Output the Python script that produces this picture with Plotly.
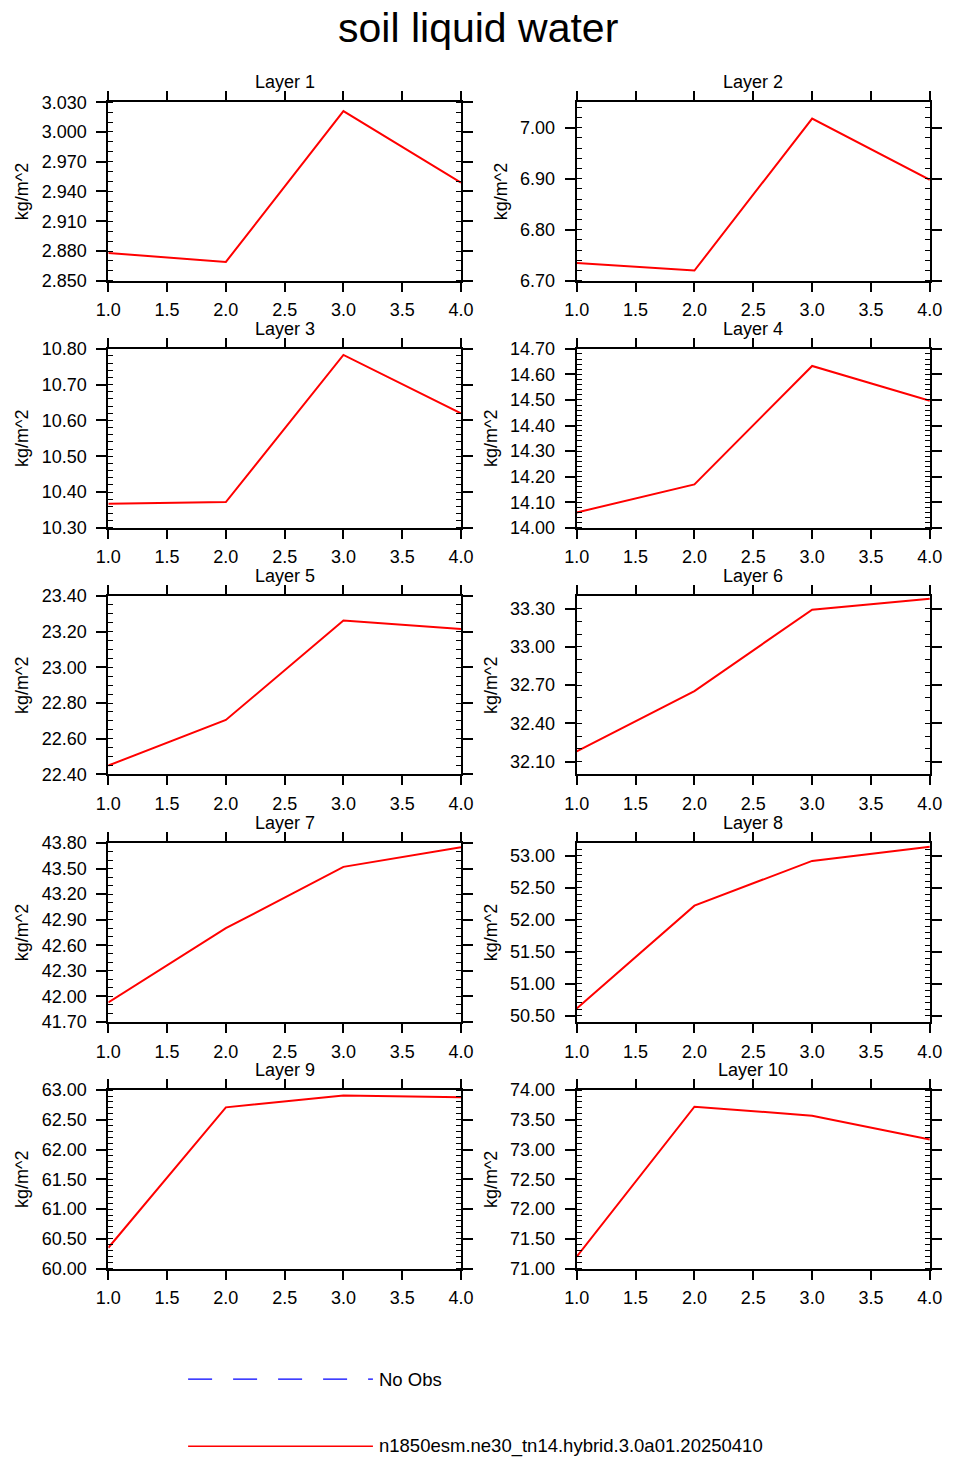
import plotly.graph_objects as go

W, H = 955, 1467

# ---------------- data ----------------
x_vals = [1, 2, 3, 4]
layer_titles = ["Layer 1", "Layer 2", "Layer 3", "Layer 4", "Layer 5",
                "Layer 6", "Layer 7", "Layer 8", "Layer 9", "Layer 10"]
layer1 = [2.878, 2.869, 3.021, 2.949]
layer2 = [6.735, 6.720, 7.018, 6.898]
layer3 = [10.367, 10.372, 10.783, 10.620]
layer4 = [14.060, 14.170, 14.633, 14.497]
layer5 = [22.450, 22.705, 23.262, 23.215]
layer6 = [32.180, 32.654, 33.292, 33.377]
layer7 = [41.930, 42.800, 43.520, 43.750]
layer8 = [50.610, 52.220, 52.920, 53.140]
layer9 = [60.350, 62.710, 62.910, 62.880]
layer10 = [71.200, 73.720, 73.570, 73.170]
series = [layer1, layer2, layer3, layer4, layer5,
          layer6, layer7, layer8, layer9, layer10]

y_ranges = [[2.850, 3.030], [6.70, 7.05], [10.30, 10.80], [14.00, 14.70],
            [22.40, 23.40], [32.00, 33.40], [41.70, 43.80], [50.40, 53.20],
            [60.00, 63.00], [71.00, 74.00]]
y_dtick = [0.03, 0.1, 0.1, 0.1, 0.2, 0.3, 0.3, 0.5, 0.5, 0.5]
y_tick0 = [2.85, 6.70, 10.30, 14.00, 22.40, 32.10, 41.70, 50.50, 60.00, 71.00]
y_minor = [0.01, 0.02, 0.02, 0.02, 0.05, 0.1, 0.1, 0.1, 0.1, 0.1]
y_format = [".3f"] + [".2f"] * 9

y_unit = "kg/m^2"
main_title = "soil liquid water"
legend_obs = "No Obs"
legend_model = "n1850esm.ne30_tn14.hybrid.3.0a01.20250410"

# ---------------- layout geometry (pixels) ----------------
col_px = [(98, 460.5), (579.5, 942.5)]
row_px = [(93.5, 274.5), (343.5, 525), (594, 775), (844.5, 1026), (1095, 1276)]

FONT = "Liberation Sans, Arial, Helvetica, sans-serif"
FS = 18

fig = go.Figure()
layout = dict(
    width=W, height=H,
    margin=dict(l=0, r=0, t=0, b=0),
    paper_bgcolor="white", plot_bgcolor="white",
    showlegend=False,
    font=dict(family=FONT, size=FS, color="black"),
)
annotations = []

for i in range(10):
    r, c = divmod(i, 2)
    x0, x1 = col_px[c]
    ytop, ybot = row_px[r]
    xs = "" if i == 0 else str(i + 1)
    fig.add_trace(go.Scatter(
        x=x_vals, y=series[i], mode="lines",
        line=dict(color="red", width=2),
        xaxis="x" + xs, yaxis="y" + xs, cliponaxis=True,
    ))
    layout["xaxis" + xs] = dict(
        domain=[x0 / W, x1 / W], anchor="y" + xs,
        range=[1, 4], tick0=1, dtick=0.5, tickformat=".1f",
        showgrid=False, zeroline=False,
        showline=True, linecolor="black", linewidth=2, mirror="ticks",
        ticks="outside", ticklen=9, tickwidth=2, tickcolor="black",
        ticklabelstandoff=3,
        tickfont=dict(family=FONT, size=FS, color="black"),
    )
    layout["yaxis" + xs] = dict(
        domain=[1 - ybot / H, 1 - ytop / H], anchor="x" + xs,
        range=y_ranges[i], tick0=y_tick0[i], dtick=y_dtick[i],
        tickformat=y_format[i],
        showgrid=False, zeroline=False,
        showline=True, linecolor="black", linewidth=2, mirror="ticks",
        ticks="outside", ticklen=10, tickwidth=2, tickcolor="black",
        ticklabelstandoff=6,
        minor=dict(ticks="inside", ticklen=5, tickwidth=1, tickcolor="black",
                   dtick=y_minor[i], tick0=y_tick0[i], showgrid=False),
        tickfont=dict(family=FONT, size=FS, color="black"),
        title=dict(text=y_unit, standoff=8,
                   font=dict(family=FONT, size=FS, color="black")),
    )
    annotations.append(dict(
        text=layer_titles[i], xref="paper", yref="paper",
        x=(x0 + x1) / 2 / W, y=1 - ytop / H, yanchor="middle", xanchor="center",
        yshift=20, showarrow=False, font=dict(family=FONT, size=FS, color="black"),
    ))

annotations.append(dict(
    text=main_title, xref="paper", yref="paper",
    x=0.5, y=1 - 18 / H, xanchor="center", yanchor="middle",
    showarrow=False, font=dict(family=FONT, size=41, color="black"),
))

# legend (drawn manually, NCL style)
leg_x0, leg_x1 = 180 / W, 370 / W
leg_y_obs, leg_y_mod = 1 - 1388 / H, 1 - 1456 / H
shapes = [
    dict(type="line", xref="paper", yref="paper", x0=leg_x0, x1=leg_x1,
         y0=leg_y_obs, y1=leg_y_obs, line=dict(color="blue", width=1.3, dash="24px,21px")),
    dict(type="line", xref="paper", yref="paper", x0=leg_x0, x1=leg_x1,
         y0=leg_y_mod, y1=leg_y_mod, line=dict(color="red", width=1.5)),
]
annotations.append(dict(
    text=legend_obs, xref="paper", yref="paper", x=374 / W, y=leg_y_obs,
    xanchor="left", yanchor="middle", showarrow=False,
    font=dict(family=FONT, size=18.5, color="black"),
))
annotations.append(dict(
    text=legend_model, xref="paper", yref="paper", x=374 / W, y=leg_y_mod,
    xanchor="left", yanchor="middle", showarrow=False,
    font=dict(family=FONT, size=18.5, color="black"),
))

layout["annotations"] = annotations
layout["shapes"] = shapes
fig.update_layout(**layout)
fig.write_html(
    "out.html",
    config={"responsive": False, "displayModeBar": False},
    post_script="document.documentElement.style.margin='0';"
                "document.documentElement.style.overflow='hidden';"
                "document.body.style.margin='0';"
                "document.body.style.padding='0';"
                "document.body.style.overflow='hidden';",
)
